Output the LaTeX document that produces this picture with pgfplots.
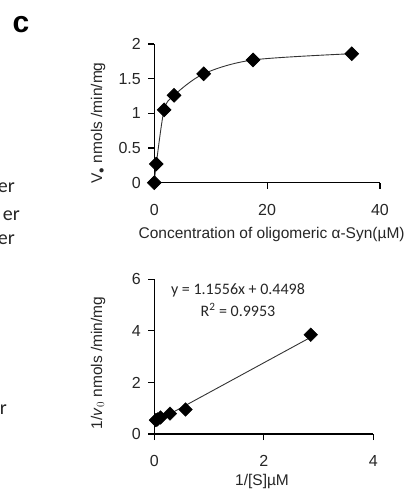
\documentclass[border=0pt]{standalone}
\usepackage{fontspec}
\setmainfont{Liberation Sans}
\newfontfamily\calibri{Carlito}
\usepackage{pgfplots}
\pgfplotsset{compat=1.18}

% Michaelis-Menten (top) and Lineweaver-Burk (bottom)
\pgfplotstableread{
s     v
0     0
0.35  0.27
1.75  1.05
3.5   1.26
8.75  1.57
17.5  1.77
35    1.86
}\mmdata
\pgfplotstableread{
invs    invv
0.0286  0.54
0.0571  0.565
0.114   0.64
0.286   0.79
0.571   0.95
2.857   3.85
}\lbdata

\pgfplotsset{
  panel/.style={
    anchor=south west, scale only axis,
    axis lines=left, axis line style={-, line width=1.2pt},
    tick align=outside, major tick length=6pt,
    tick style={line width=1.2pt, black},
    clip=false,
    /pgf/number format/assume math mode=true,
    tick label style={font=\fontsize{16}{19}\selectfont, text=black!85},
    label style={font=\fontsize{15.5}{18}\selectfont, text=black!85},
    xticklabel style={yshift=-12pt},
    yticklabel style={xshift=-4pt},
  },
  dmark/.style={mark=square*, mark size=4.8pt, mark options={rotate=45, fill=black, draw=black}},
}
\tikzset{frag/.style={anchor=base east, inner sep=0pt, font=\calibri\fontsize{20}{24}\selectfont, text=black!85}}

\begin{document}
\begin{tikzpicture}[x=1pt, y=1pt]
\useasboundingbox (0,0) rectangle (407,491);
\clip (0,0) rectangle (407,491);

\node[font=\bfseries\fontsize{30}{32}\selectfont] at (21,466) {c};
\node[frag] at (15,298) {er};
\node[frag] at (20,270) {er};
\node[frag] at (15,246) {er};
\node[frag] at (7,76) {er};

\begin{axis}[panel,
  at={(154.3pt,308.3pt)}, width=225.7pt, height=138.7pt,
  xmin=0, xmax=40, ymin=0, ymax=2,
  xtick={0,20,40}, ytick={0,0.5,1,1.5,2},
  xlabel={Concentration of oligomeric α-Syn(\textmu M)},
  ylabel={V$_{\bullet}$ nmols /min/mg},
  xlabel style={at={(axis description cs:0.52,-0.37)}, anchor=center},
  ylabel style={at={(axis description cs:-0.249,0.43)}, anchor=center, rotate=0},
]
\addplot[black!80, line width=0.9pt, smooth, dmark] table[x=s, y=v] {\mmdata};
\end{axis}

\begin{axis}[panel,
  at={(154.3pt,57pt)}, width=219pt, height=154.7pt,
  xmin=0, xmax=4, ymin=0, ymax=6,
  xtick={0,2,4}, ytick={0,2,4,6},
  xlabel={1/[S]\textmu M},
  ylabel={1/\textit{v}$_0$ nmols /min/mg},
  xlabel style={at={(axis description cs:0.492,-0.31)}, anchor=center},
  ylabel style={at={(axis description cs:-0.257,0.46)}, anchor=center, rotate=0},
]
\addplot[black!80, line width=0.9pt] coordinates {(0.0286,0.483) (2.857,3.751)};
\addplot[only marks, dmark] table[x=invs, y=invv] {\lbdata};
\end{axis}

\node[font=\calibri\fontsize{16}{19}\selectfont, text=black!85] at (238,201) {y = 1.1556x + 0.4498};
\node[font=\calibri\fontsize{16}{19}\selectfont, text=black!85] at (238,181) {R\textsuperscript{2} = 0.9953};
\end{tikzpicture}
\end{document}
